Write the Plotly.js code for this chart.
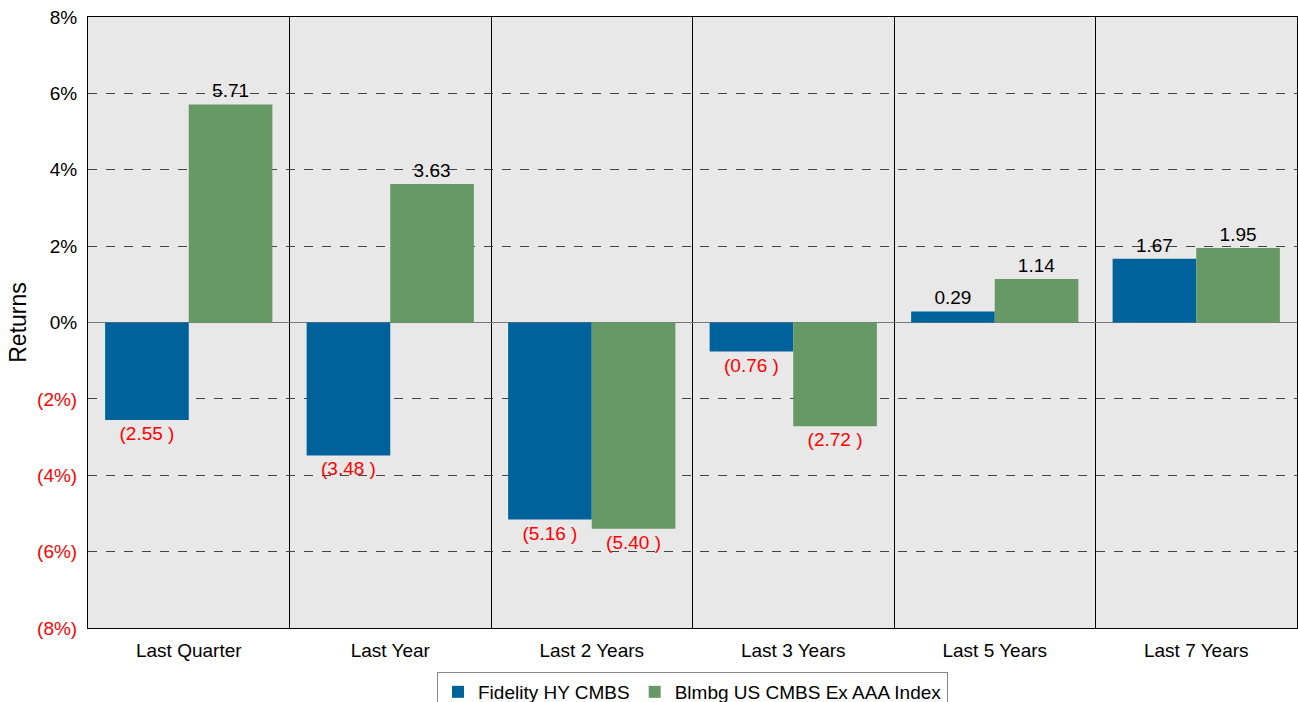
<!DOCTYPE html>
<html>
<head>
<meta charset="utf-8">
<script src="https://cdn.plot.ly/plotly-3.0.1.min.js"></script>
<style>html,body{margin:0;padding:0;background:#fff;}#chart{width:1298px;height:702px;}</style>
</head>
<body>
<div id="chart"></div>
<script>
var categories = ["Last Quarter", "Last Year", "Last 2 Years", "Last 3 Years", "Last 5 Years", "Last 7 Years"];
var fundName = "Fidelity HY CMBS";
var indexName = "Blmbg US CMBS Ex AAA Index";
var fundValues = [-2.55, -3.48, -5.16, -0.76, 0.29, 1.67];
var indexValues = [5.71, 3.63, -5.40, -2.72, 1.14, 1.95];
var yTickVals = [8, 6, 4, 2, 0, -2, -4, -6, -8];
var yTickText = ["8%", "6%", "4%", "2%", "0%", "(2%)", "(4%)", "(6%)", "(8%)"];

function fmt(v) { return v < 0 ? "(" + Math.abs(v).toFixed(2) + " )" : v.toFixed(2); }
function col(v) { return v < 0 ? "#ff0000" : "#000000"; }

var fontFam = "Arial, 'Liberation Sans', sans-serif";
var fs = 19;

function makeTrace(name, vals, color) {
  return {
    type: "bar", name: name, x: categories, y: vals,
    marker: {color: color},
    text: vals.map(fmt), textposition: "outside",
    textfont: {family: fontFam, size: fs, color: vals.map(col)},
    constraintext: "none",
    cliponaxis: false, hoverinfo: "x+y"
  };
}

var data = [
  makeTrace(fundName, fundValues, "#00629b"),
  makeTrace(indexName, indexValues, "#669966")
];

var ticktext = yTickText.map(function (t, i) {
  return yTickVals[i] < 0 ? '<span style="color:#ff0000">' + t + '</span>' : t;
});

var layout = {
  width: 1298, height: 702,
  margin: {l: 88, r: 1, t: 17, b: 74, autoexpand: false},
  paper_bgcolor: "#ffffff", plot_bgcolor: "#e8e8e8",
  font: {family: fontFam, size: fs, color: "#000"},
  barmode: "group", bargap: 0.17, bargroupgap: 0,
  xaxis: {
    type: "category", tickson: "boundaries", showgrid: true, gridcolor: "#000", gridwidth: 1,
    ticks: "", showline: true, mirror: true, linecolor: "#000", linewidth: 1,
    ticklabelstandoff: 5,
    tickfont: {family: fontFam, size: fs, color: "#000"}, automargin: false
  },
  yaxis: {
    range: [-8, 8], tickvals: yTickVals, ticktext: ticktext,
    showgrid: true, gridcolor: "#444", griddash: "dash", gridwidth: 1,
    zeroline: true, zerolinecolor: "#777", zerolinewidth: 1.5,
    showline: true, mirror: true, linecolor: "#000", linewidth: 1,
    ticks: "", ticklen: 0, ticklabelstandoff: 6,
    tickfont: {family: fontFam, size: fs, color: "#000"},
    title: {text: "Returns", font: {family: fontFam, size: 23, color: "#000"}, standoff: 4},
    automargin: false
  },
  showlegend: true,
  legend: {
    orientation: "h", x: 0.5, xanchor: "center", y: -0.072, yanchor: "top",
    bgcolor: "#fff", bordercolor: "#888", borderwidth: 1,
    font: {family: fontFam, size: fs, color: "#000"},
    traceorder: "normal"
  }
};

Plotly.newPlot("chart", data, layout, {displayModeBar: false, staticPlot: true});
</script>
</body>
</html>
